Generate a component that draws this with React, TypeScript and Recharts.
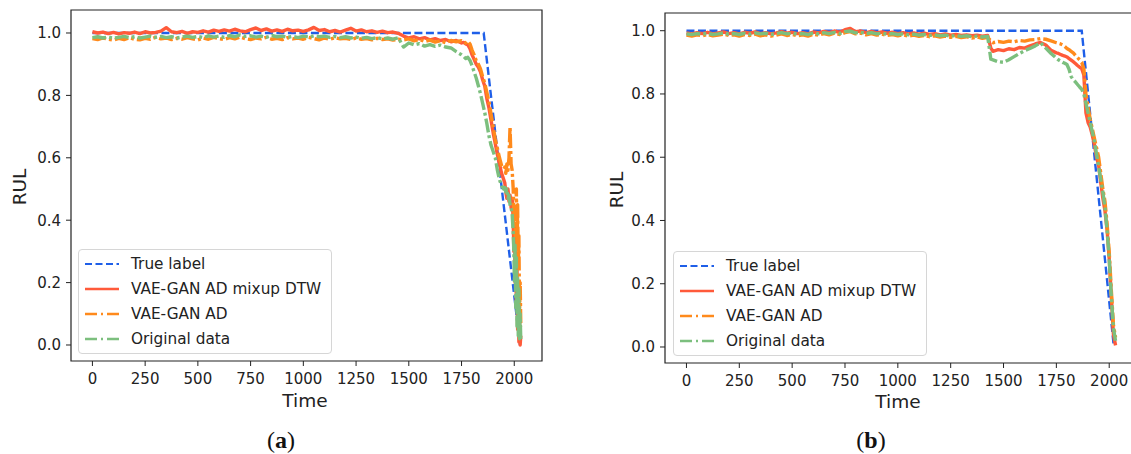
import { LineChart, Line, XAxis, YAxis, ReferenceArea, Legend } from "recharts";

// ---- panel (a) ----
const timeA = [
  0, 25, 50, 75, 100, 125, 150, 175, 200, 225,
  250, 275, 300, 325, 350, 375, 400, 425, 450, 475,
  500, 525, 550, 575, 600, 625, 650, 675, 700, 725,
  750, 775, 800, 825, 850, 875, 900, 925, 950, 975,
  1000, 1025, 1050, 1075, 1100, 1125, 1150, 1175, 1200, 1225,
  1250, 1275, 1300, 1325, 1350, 1375, 1400, 1425, 1450,
  1475, 1500, 1525, 1550, 1575, 1600, 1625, 1650, 1675, 1700, 1725, 1750,
  1760, 1770, 1780, 1790, 1800, 1810, 1820, 1830, 1840, 1850,
  1860, 1870, 1880, 1890, 1900, 1910, 1920, 1930, 1940, 1950,
  1955, 1960, 1965, 1970, 1975, 1980, 1985, 1990, 1995,
  1998, 2001, 2004, 2007, 2010, 2013, 2016, 2019, 2022, 2025, 2028, 2031,
];
const mixupA = [
  1.004, 1.0, 1.003, 0.998, 1.002, 0.997, 1.001, 0.999, 1.003, 0.998,
  1.004, 1.0, 1.002, 1.006, 1.017, 1.004, 1.001, 1.005, 0.999, 1.004,
  1.002, 1.007, 1.003, 1.009, 1.005, 1.01, 1.006, 1.012, 1.007, 1.004,
  1.011, 1.016, 1.008, 1.013, 1.006, 1.01, 1.005, 1.012, 1.007, 1.009,
  1.005, 1.01, 1.018, 1.008, 1.011, 1.004, 1.008, 1.003, 1.009, 1.015,
  1.006, 1.01, 1.004, 1.007, 1.002, 1.006, 1.001, 1.003, 0.999,
  0.99, 0.984, 0.988, 0.981, 0.985, 0.978, 0.982, 0.976, 0.979, 0.972, 0.976, 0.968,
  0.97, 0.965, 0.962, 0.95, 0.93, 0.915, 0.9, 0.89, 0.875, 0.85,
  0.83, 0.79, 0.76, 0.72, 0.68, 0.645, 0.61, 0.58, 0.55, 0.53,
  0.52, 0.49, 0.47, 0.5, 0.46, 0.48, 0.44, 0.47, 0.4,
  0.3, 0.38, 0.2, 0.3, 0.12, 0.25, 0.05, 0.15, 0.01, 0.08, 0.0, 0.03,
];
const ganA = [
  0.982, 0.979, 0.984, 0.98, 0.977, 0.983, 0.979, 0.985, 0.98, 0.978,
  0.983, 0.98, 0.986, 0.981, 0.984, 0.979, 0.983, 0.98, 0.985, 0.981,
  0.978, 0.984, 0.98, 0.986, 0.982, 0.979, 0.985, 0.981, 0.987, 0.982,
  0.979, 0.984, 0.981, 0.986, 0.98, 0.983, 0.979, 0.985, 0.981, 0.984,
  0.98, 0.986, 0.982, 0.978, 0.984, 0.98, 0.985, 0.981, 0.983, 0.979,
  0.984, 0.98, 0.982, 0.978, 0.983, 0.979, 0.981, 0.977, 0.98,
  0.978, 0.981, 0.975, 0.979, 0.973, 0.977, 0.971, 0.975, 0.969, 0.976, 0.972, 0.975,
  0.972, 0.968, 0.974, 0.965, 0.945, 0.93, 0.91, 0.9, 0.885, 0.86,
  0.84, 0.81, 0.78, 0.74, 0.7, 0.66, 0.63, 0.6, 0.575, 0.565,
  0.57, 0.55, 0.58, 0.56, 0.6, 0.7, 0.58, 0.56, 0.5,
  0.42, 0.45, 0.35, 0.4, 0.5, 0.3, 0.45, 0.25, 0.35, 0.1, 0.2, 0.06,
];
const origA = [
  0.985, 0.988, 0.984, 0.987, 0.983, 0.986, 0.989, 0.985, 0.988, 0.984,
  0.987, 0.99, 0.986, 0.989, 0.985, 0.988, 0.984, 0.987, 0.99, 0.986,
  0.989, 0.985, 0.991, 0.987, 0.99, 0.986, 0.992, 0.988, 0.994, 0.989,
  0.991, 0.987, 0.99, 0.986, 0.992, 0.988, 0.99, 0.986, 0.989, 0.985,
  0.99, 0.987, 0.991, 0.988, 0.99, 0.986, 0.989, 0.985, 0.988, 0.984,
  0.987, 0.983, 0.986, 0.982, 0.985, 0.981, 0.984, 0.98, 0.985,
  0.955, 0.968, 0.962, 0.966, 0.958, 0.963, 0.957, 0.961, 0.955, 0.952, 0.94, 0.93,
  0.925, 0.918, 0.922, 0.912, 0.895, 0.875, 0.855, 0.83, 0.805, 0.775,
  0.745, 0.71, 0.67, 0.64, 0.62, 0.6, 0.56, 0.53, 0.51, 0.5,
  0.505, 0.49, 0.5, 0.47, 0.48, 0.45, 0.44, 0.42, 0.36,
  0.3, 0.2, 0.32, 0.12, 0.28, 0.06, 0.22, 0.03, 0.18, 0.02, 0.1, 0.01,
];
const truthTimeA = [0, 1855, 2027];
const truthValA = [1, 1, 0];

// ---- panel (b) ----
const timeB = [
  0, 25, 50, 75, 100, 125, 150, 175, 200, 225,
  250, 275, 300, 325, 350, 375, 400, 425, 450, 475,
  500, 525, 550, 575, 600, 625, 650, 675, 700, 725,
  750, 775, 800, 825, 850, 875, 900, 925, 950, 975,
  1000, 1025, 1050, 1075, 1100, 1125, 1150, 1175, 1200, 1225,
  1250, 1275, 1300, 1325, 1350, 1375, 1400, 1425,
  1440,
  1450, 1475, 1500, 1525, 1550, 1575, 1600, 1625, 1650, 1675, 1700, 1725, 1750,
  1760, 1770, 1780, 1790, 1800, 1810, 1820, 1830, 1840, 1850, 1860, 1870,
  1880, 1890, 1900, 1910, 1920, 1930, 1940, 1950, 1960, 1970, 1980, 1990, 2000, 2010, 2020, 2030,
];
const mixupB = [
  0.993, 0.99, 0.994, 0.991, 0.995, 0.99, 0.993, 0.996, 0.991, 0.994,
  0.99, 0.995, 0.992, 0.996, 0.991, 0.994, 0.99, 0.993, 0.997, 0.992,
  0.995, 0.991, 0.994, 0.99, 0.996, 0.993, 0.998, 0.994, 0.999, 0.995,
  1.003, 1.007, 0.997, 0.999, 0.994, 0.998, 0.993, 0.996, 0.992, 0.995,
  0.991, 0.994, 0.99, 0.993, 0.989, 0.992, 0.988, 0.991, 0.987, 0.99,
  0.986, 0.988, 0.985, 0.987, 0.984, 0.986, 0.983, 0.985,
  0.945,
  0.935, 0.94, 0.937, 0.943, 0.94, 0.947, 0.945, 0.952, 0.958, 0.963, 0.955, 0.938, 0.93,
  0.928, 0.925, 0.922, 0.92, 0.917, 0.912, 0.907, 0.902, 0.896, 0.89, 0.885, 0.88,
  0.86, 0.74, 0.71, 0.695, 0.67, 0.64, 0.6, 0.575, 0.52, 0.47, 0.43, 0.37, 0.28, 0.16, 0.04, 0.005,
];
const ganB = [
  0.986, 0.983, 0.987, 0.984, 0.988, 0.984, 0.986, 0.989, 0.985, 0.987,
  0.983, 0.988, 0.985, 0.989, 0.984, 0.987, 0.983, 0.986, 0.99, 0.985,
  0.988, 0.984, 0.987, 0.983, 0.989, 0.986, 0.991, 0.987, 0.992, 0.988,
  0.994, 0.997, 0.99, 0.992, 0.987, 0.991, 0.986, 0.989, 0.985, 0.988,
  0.984, 0.987, 0.983, 0.986, 0.982, 0.985, 0.981, 0.984, 0.98, 0.983,
  0.979, 0.982, 0.978, 0.981, 0.977, 0.98, 0.976, 0.979,
  0.968,
  0.962, 0.966, 0.963, 0.967, 0.965, 0.969, 0.967, 0.971, 0.972, 0.975, 0.973, 0.968, 0.962,
  0.96, 0.958, 0.955, 0.95, 0.944, 0.94, 0.935, 0.93, 0.922, 0.915, 0.908, 0.9,
  0.88, 0.8, 0.76, 0.72, 0.69, 0.66, 0.63, 0.6, 0.55, 0.5, 0.46, 0.39, 0.3, 0.18, 0.07, 0.03,
];
const origB = [
  0.99, 0.988, 0.991, 0.989, 0.992, 0.988, 0.99, 0.993, 0.989, 0.991,
  0.988, 0.992, 0.989, 0.993, 0.99, 0.992, 0.988, 0.991, 0.994, 0.99,
  0.992, 0.989, 0.991, 0.988, 0.993, 0.99, 0.994, 0.991, 0.995, 0.991,
  0.997, 0.999, 0.993, 0.995, 0.991, 0.994, 0.99, 0.992, 0.989, 0.991,
  0.988, 0.99, 0.987, 0.989, 0.986, 0.988, 0.985, 0.987, 0.984, 0.986,
  0.983, 0.985, 0.982, 0.984, 0.981, 0.983, 0.98, 0.982,
  0.91,
  0.908, 0.902, 0.9, 0.908, 0.918, 0.928, 0.937, 0.944, 0.952, 0.962, 0.945, 0.928, 0.913,
  0.908, 0.904, 0.9, 0.897, 0.893, 0.878, 0.855, 0.845, 0.838, 0.83, 0.822, 0.815,
  0.8, 0.77, 0.74, 0.71, 0.68, 0.65, 0.61, 0.57, 0.53, 0.49, 0.44, 0.37, 0.28, 0.16, 0.06, 0.02,
];
const truthTimeB = [0, 1870, 2022];
const truthValB = [1, 1, 0];

const timeTicks = [0, 250, 500, 750, 1000, 1250, 1500, 1750, 2000];
const rulTicks = [0, 0.2, 0.4, 0.6, 0.8, 1.0];

const X_DOMAIN = [-101.5, 2131.5];
const FONT = "'DejaVu Sans', sans-serif";

const legendItems = [
  { name: "True label", color: "#1f5fe8", dash: "7 3.5", width: 2.2 },
  { name: "VAE-GAN AD mixup DTW", color: "#ff5a3a", dash: undefined, width: 2.6 },
  { name: "VAE-GAN AD", color: "#ff8a1c", dash: "12 4 2 4", width: 2.6 },
  { name: "Original data", color: "#7cbf7e", dash: "12 4 2 4", width: 2.6 },
];

const toRows = (time: number[], mixup: number[], gan: number[], orig: number[]) =>
  time.map((t, i) => ({ t, mixup: mixup[i], gan: gan[i], orig: orig[i] }));
const toTruth = (time: number[], vals: number[]) => time.map((t, i) => ({ t, v: vals[i] }));

const LegendBox = () => (
  <div
    style={{
      width: 252,
      height: 102,
      paddingTop: 1,
      border: "1px solid #d6d6d6",
      borderRadius: 4,
      background: "rgba(255,255,255,0.85)",
      fontFamily: FONT,
      fontSize: 15.3,
      color: "#222",
    }}
  >
    {legendItems.map((it) => (
      <div key={it.name} style={{ display: "flex", alignItems: "center", height: 25 }}>
        <svg width={34} height={10} style={{ marginLeft: 6, marginRight: 12 }}>
          <line x1={0} y1={5} x2={34} y2={5} stroke={it.color} strokeWidth={it.width} strokeDasharray={it.dash} />
        </svg>
        <span>{it.name}</span>
      </div>
    ))}
  </div>
);

type PanelProps = {
  left: number;
  rows: any[];
  truth: any[];
  yDomain: number[];
  margin: { top: number; right: number; left: number; bottom: number };
  legendPos: { left: number; top: number };
};

const Panel = ({ left, rows, truth, yDomain, margin, legendPos }: PanelProps) => (
  <div style={{ position: "absolute", left, top: 0 }}>
    <LineChart width={560} height={400} data={rows} margin={margin}>
      <XAxis
        type="number"
        dataKey="t"
        domain={X_DOMAIN}
        ticks={timeTicks}
        interval={0}
        allowDataOverflow
        height={30}
        axisLine={false}
        tickSize={5}
        tickMargin={7}
        tickLine={{ stroke: "#222" }}
        tick={{ fontSize: 15, fill: "#222", fontFamily: FONT }}
      />
      <YAxis
        type="number"
        domain={yDomain}
        ticks={rulTicks}
        interval={0}
        allowDataOverflow
        width={60}
        axisLine={false}
        tickSize={5}
        tickMargin={5}
        tickLine={{ stroke: "#222" }}
        tick={{ fontSize: 15, fill: "#222", fontFamily: FONT }}
        tickFormatter={(v: number) => v.toFixed(1)}
      />
      <ReferenceArea
        x1={X_DOMAIN[0]}
        x2={X_DOMAIN[1]}
        y1={yDomain[0]}
        y2={yDomain[1]}
        fill="none"
        fillOpacity={0}
        stroke="#222"
        strokeWidth={1.2}
        ifOverflow="visible"
      />
      <Line data={truth} dataKey="v" type="linear" stroke={legendItems[0].color} strokeWidth={2.4} strokeDasharray="8 3.5" dot={false} activeDot={false} isAnimationActive={false} />
      <Line dataKey="mixup" type="linear" stroke={legendItems[1].color} strokeWidth={3.4} strokeLinejoin="round" dot={false} activeDot={false} isAnimationActive={false} />
      <Line dataKey="gan" type="linear" stroke={legendItems[2].color} strokeWidth={3.4} strokeDasharray="14 3 3 3" strokeLinejoin="round" dot={false} activeDot={false} isAnimationActive={false} />
      <Line dataKey="orig" type="linear" stroke={legendItems[3].color} strokeWidth={3.4} strokeDasharray="14 3 3 3" strokeLinejoin="round" dot={false} activeDot={false} isAnimationActive={false} />
      <Legend
        layout="vertical"
        align="center"
        verticalAlign="middle"
        content={() => <LegendBox />}
        wrapperStyle={{ left: legendPos.left, top: legendPos.top, width: 254 }}
      />
    </LineChart>
  </div>
);

const Caption = ({ x, y, letter }: { x: number; y: number; letter: string }) => (
  <div
    style={{
      position: "absolute",
      left: x,
      top: y,
      transform: "translate(-50%, -50%)",
      fontFamily: "'Liberation Serif', serif",
      fontSize: 24,
      lineHeight: 1,
      color: "#111",
    }}
  >
    (<b>{letter}</b>)
  </div>
);

const AxisLabel = ({ x, y, text, rotate }: { x: number; y: number; text: string; rotate?: boolean }) => (
  <div
    style={{
      position: "absolute",
      left: x,
      top: y,
      transform: `translate(-50%, -50%)${rotate ? " rotate(-90deg)" : ""}`,
      fontFamily: FONT,
      fontSize: 18.5,
      lineHeight: 1,
      color: "#222",
      whiteSpace: "nowrap",
    }}
  >
    {text}
  </div>
);

export default function App() {
  return (
    <div
      style={{
        position: "absolute",
        left: 0,
        top: 0,
        width: 1131,
        height: 454,
        overflow: "hidden",
        background: "#fff",
      }}
    >
      <Panel
        left={0}
        rows={toRows(timeA, mixupA, ganA, origA)}
        truth={toTruth(truthTimeA, truthValA)}
        yDomain={[-0.0513, 1.0737]}
        margin={{ top: 10, right: 18, left: 11, bottom: 9 }}
        legendPos={{ left: 78, top: 249 }}
      />
      <Panel
        left={600}
        rows={toRows(timeB, mixupB, ganB, origB)}
        truth={toTruth(truthTimeB, truthValB)}
        yDomain={[-0.0506, 1.056]}
        margin={{ top: 13, right: 23, left: 5, bottom: 7 }}
        legendPos={{ left: 73, top: 251 }}
      />
      <AxisLabel x={20} y={187} text="RUL" rotate />
      <AxisLabel x={617} y={190} text="RUL" rotate />
      <AxisLabel x={305} y={401} text="Time" />
      <AxisLabel x={898} y={402} text="Time" />
      <Caption x={281} y={440} letter="a" />
      <Caption x={871} y={440} letter="b" />
    </div>
  );
}
